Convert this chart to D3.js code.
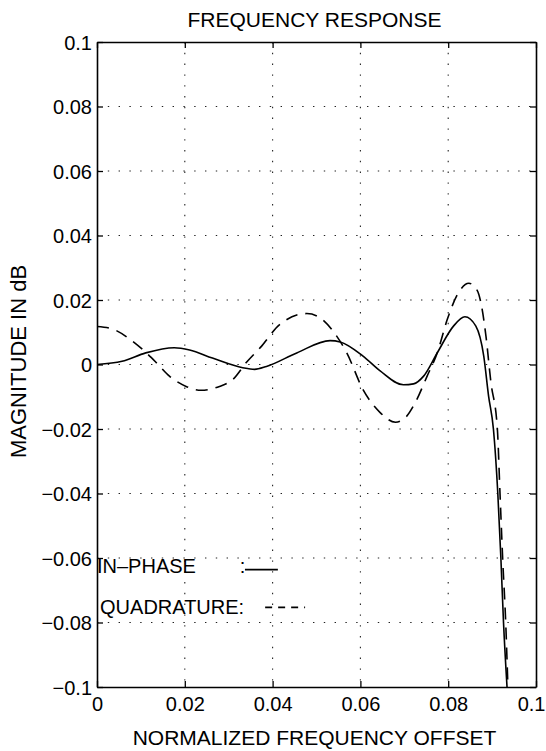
<!DOCTYPE html>
<html>
<head>
<meta charset="utf-8">
<script src="https://cdn.jsdelivr.net/npm/d3@7"></script>
<style>
  html, body { margin: 0; padding: 0; background: #fff; }
  svg { display: block; font-family: "Liberation Sans", Arial, Helvetica, sans-serif; }
</style>
</head>
<body>
<svg id="chart" width="546" height="751"></svg>
<script>
// ---- data ----
const title = "FREQUENCY RESPONSE";
const xLabel = "NORMALIZED FREQUENCY OFFSET";
const yLabel = "MAGNITUDE IN dB";
const xTicks = [0, 0.02, 0.04, 0.06, 0.08, 0.1];
const xTickLabels = ["0", "0.02", "0.04", "0.06", "0.08", "0.1"];
const yTicks = [-0.1, -0.08, -0.06, -0.04, -0.02, 0, 0.02, 0.04, 0.06, 0.08, 0.1];
const yTickLabels = ["\u22120.1", "\u22120.08", "\u22120.06", "\u22120.04", "\u22120.02", "0", "0.02", "0.04", "0.06", "0.08", "0.1"];

const inPhaseFreq = [0, 0.0057, 0.0111, 0.0176, 0.0211, 0.0263, 0.0332, 0.0359, 0.0386, 0.0455, 0.0531, 0.0554, 0.0606, 0.0645, 0.0698, 0.0721, 0.0744, 0.0775, 0.0812, 0.0838, 0.0863, 0.0881, 0.0892, 0.0903, 0.0913, 0.092, 0.0926, 0.0934];
const inPhaseMag  = [0, 0.001, 0.0036, 0.0052, 0.0045, 0.002, -0.001, -0.0015, -0.0006, 0.0036, 0.0074, 0.007, 0.0026, -0.002, -0.0063, -0.006, -0.0036, 0.0036, 0.0119, 0.0148, 0.0119, 0.0026, -0.0098, -0.02, -0.04, -0.06, -0.08, -0.1];

const quadFreq = [0, 0.0031, 0.0085, 0.0135, 0.0165, 0.0203, 0.0237, 0.0279, 0.0309, 0.034, 0.0375, 0.0416, 0.0478, 0.0508, 0.0538, 0.0569, 0.0606, 0.0645, 0.068, 0.0703, 0.0725, 0.0752, 0.0775, 0.0798, 0.0821, 0.0847, 0.0866, 0.0876, 0.0886, 0.0897, 0.0912, 0.0918, 0.0924, 0.0931, 0.0936];
const quadMag  = [0.0118, 0.0112, 0.0068, 0.0006, -0.0036, -0.0068, -0.008, -0.0068, -0.0047, 0.0006, 0.0057, 0.0124, 0.0158, 0.0145, 0.0103, 0.0036, -0.0078, -0.0149, -0.0179, -0.0164, -0.0118, -0.0036, 0.0036, 0.014, 0.0217, 0.0252, 0.023, 0.0181, 0.0088, -0.0052, -0.02, -0.04, -0.06, -0.08, -0.1];

const legendNames = ["IN\u2013PHASE", "QUADRATURE:"];

// ---- layout ----
const W = 546, L = 97, R = 536, T = 42, B = 687;
const fontSize = 20;

const svg = d3.select("#chart");
const x = d3.scaleLinear().domain([0, 0.1]).range([L, R]);
const y = d3.scaleLinear().domain([-0.1, 0.1]).range([B, T]);

// grid (dotted)
const grid = svg.append("g").attr("stroke", "#222").attr("stroke-width", 1.1)
  .attr("stroke-dasharray", "1.4,9.4");
grid.selectAll("line.gx").data(xTicks.slice(1, -1)).join("line")
  .attr("x1", d => x(d)).attr("x2", d => x(d)).attr("y1", T).attr("y2", B);
grid.selectAll("line.gy").data(yTicks.slice(1, -1)).join("line")
  .attr("y1", d => y(d)).attr("y2", d => y(d)).attr("x1", L).attr("x2", R);

// axes with inward ticks
const tickLen = 6;
const axB = svg.append("g").attr("transform", `translate(0,${B})`)
  .call(d3.axisBottom(x).tickValues(xTicks).tickSizeInner(-tickLen).tickSizeOuter(0).tickPadding(10)
    .tickFormat((d, i) => xTickLabels[i]));
const axT = svg.append("g").attr("transform", `translate(0,${T})`)
  .call(d3.axisTop(x).tickValues(xTicks).tickSizeInner(-tickLen).tickSizeOuter(0).tickFormat(""));
const axL = svg.append("g").attr("transform", `translate(${L},0)`)
  .call(d3.axisLeft(y).tickValues(yTicks).tickSizeInner(-tickLen).tickSizeOuter(0).tickPadding(5)
    .tickFormat((d, i) => yTickLabels[i]));
const axR = svg.append("g").attr("transform", `translate(${R},0)`)
  .call(d3.axisRight(y).tickValues(yTicks).tickSizeInner(-tickLen).tickSizeOuter(0).tickFormat(""));
[axB, axT, axL, axR].forEach(a => {
  a.select(".domain").attr("stroke", "#000").attr("stroke-width", 1.6);
  a.selectAll(".tick line").attr("stroke", "#000").attr("stroke-width", 1.3);
  a.selectAll(".tick text").attr("fill", "#000").attr("font-size", fontSize)
    .attr("font-family", "\"Liberation Sans\", Arial, Helvetica, sans-serif");
});
axL.selectAll(".tick text").attr("dy", "0.35em");
axB.selectAll(".tick text").attr("dy", "0.71em");
// keep the last x tick label inside the page
axB.selectAll(".tick text").filter(d => d === 0.1)
  .attr("text-anchor", "end").attr("x", W - 1 - x(0.1));

// curves
const clip = svg.append("clipPath").attr("id", "clip").append("rect")
  .attr("x", L).attr("y", T - 1).attr("width", R - L).attr("height", B - T + 2);
const line = d3.line().x(d => x(d[0])).y(d => y(d[1])).curve(d3.curveMonotoneX);
const inPhase = inPhaseFreq.map((f, i) => [f, inPhaseMag[i]]);
const quad = quadFreq.map((f, i) => [f, quadMag[i]]);
const curves = svg.append("g").attr("clip-path", "url(#clip)");
curves.append("path").datum(inPhase).attr("d", line)
  .attr("fill", "none").attr("stroke", "#000").attr("stroke-width", 1.6);
curves.append("path").datum(quad).attr("d", line)
  .attr("fill", "none").attr("stroke", "#000").attr("stroke-width", 1.6)
  .attr("stroke-dasharray", "12,8");

// legend (text + line samples, placed in data coordinates)
const leg = svg.append("g").attr("font-size", fontSize).attr("fill", "#000");
leg.append("text").attr("x", x(0)).attr("y", y(-0.0645)).text(legendNames[0]);
leg.append("text").attr("x", x(0.0325)).attr("y", y(-0.0645)).text(":");
leg.append("line").attr("x1", x(0.0337)).attr("x2", x(0.0412))
  .attr("y1", y(-0.0636)).attr("y2", y(-0.0636)).attr("stroke", "#000").attr("stroke-width", 1.6);
leg.append("text").attr("x", x(0.0007)).attr("y", y(-0.0775)).text(legendNames[1]);
leg.append("line").attr("x1", x(0.0383)).attr("x2", x(0.0474))
  .attr("y1", y(-0.0753)).attr("y2", y(-0.0753)).attr("stroke", "#000").attr("stroke-width", 1.6)
  .attr("stroke-dasharray", "7,6");

// titles
svg.append("text").attr("x", (L + R) / 2 - 2).attr("y", 27).attr("text-anchor", "middle")
  .attr("font-size", fontSize + 1).text(title);
svg.append("text").attr("x", (L + R) / 2 - 2).attr("y", 745).attr("text-anchor", "middle")
  .attr("font-size", fontSize + 1).text(xLabel);
svg.append("text").attr("transform", `translate(26,${(T + B) / 2 - 3}) rotate(-90)`)
  .attr("text-anchor", "middle").attr("font-size", fontSize + 2).text(yLabel);
</script>
</body>
</html>
